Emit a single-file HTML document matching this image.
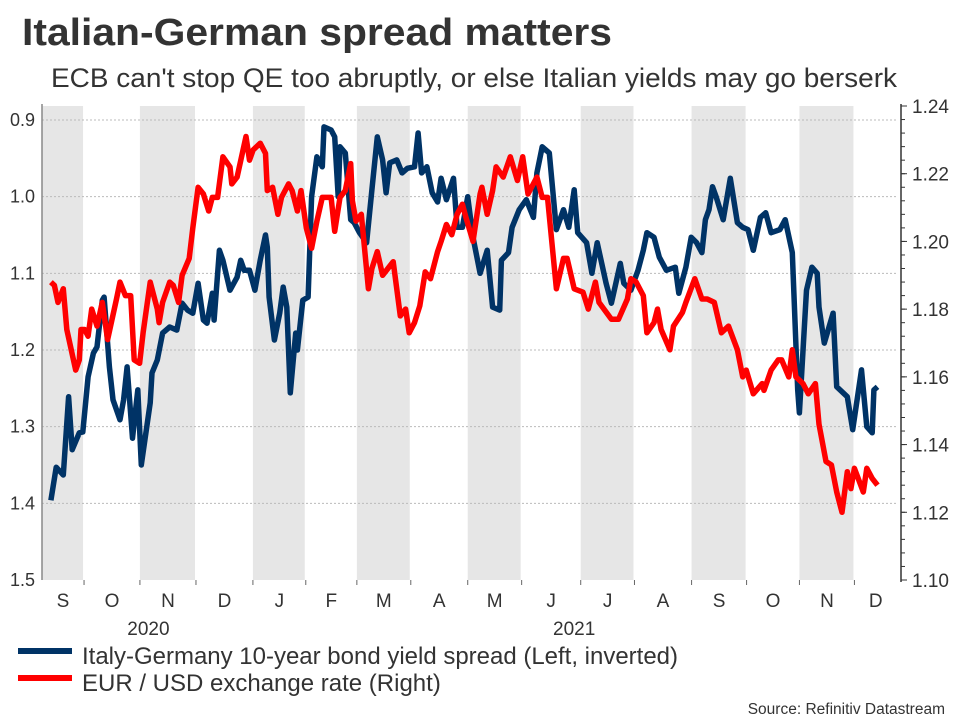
<!DOCTYPE html>
<html><head><meta charset="utf-8"><style>
body{margin:0;background:#fff;}
svg{display:block;font-family:"Liberation Sans",Arial,sans-serif;}
</style></head><body>
<svg id="chart" width="960" height="720" viewBox="0 0 960 720">
<text x="22" y="45" font-size="38" font-weight="bold" fill="#333" textLength="590" lengthAdjust="spacingAndGlyphs">Italian-German spread matters</text>
<text x="51" y="87" font-size="27" fill="#333" textLength="846" lengthAdjust="spacingAndGlyphs">ECB can't stop QE too abruptly, or else Italian yields may go berserk</text>
<g id="bands"></g>
<g id="grid"></g>
<g id="laxis"></g>
<g id="raxis"></g>
<g id="xaxis"></g>
<g id="series"></g>
<g>
<rect x="18" y="648" width="54" height="6" fill="#003366"/>
<text x="82" y="664" font-size="24" fill="#333" textLength="596" lengthAdjust="spacingAndGlyphs">Italy-Germany 10-year bond yield spread (Left, inverted)</text>
<rect x="18" y="675" width="54" height="6" fill="#ff0000"/>
<text x="82" y="691" font-size="24" fill="#333">EUR / USD exchange rate (Right)</text>
</g>
<text x="945" y="714" font-size="15.5" fill="#333" text-anchor="end">Source: Refinitiv Datastream</text>
</svg>
<script>
const monthStarts=[0,23.7,55.2,86.8,118.9,148.7,177.5,207.9,240,270.4,303.7,334,366.2,397.2,427,458,482];
const monthLabels=["S","O","N","D","J","F","M","A","M","J","J","A","S","O","N","D"];
const yearLabels=["2020","2021"];
const yearLabelDays=[60,300];
const leftTicks=[0.9,1.0,1.1,1.2,1.3,1.4,1.5];
const leftTickLabels=["0.9","1.0","1.1","1.2","1.3","1.4","1.5"];
const rightTicks=[1.10,1.12,1.14,1.16,1.18,1.20,1.22,1.24];
const rightTickLabels=["1.10","1.12","1.14","1.16","1.18","1.20","1.22","1.24"];
const spreadDays=[5,8,12,15,17,21,23,26,29,31,34,35,38,40,44,46,48,51,54,56,61,62,65,68,72,76,79,82,85,88,91,93,96,97,100,102,106,110,112,114,117,120,123,126,127,128,131,134,136,138,140,143,144,147,150,152,155,158,159,163,165,167,168,171,174,176,179,183,186,189,192,194,196,200,203,206,210,212,214,217,220,223,225,228,232,234,237,240,243,247,251,254,258,259,263,265,269,273,277,279,282,286,290,294,297,300,302,307,310,313,318,321,326,328,332,336,339,341,345,348,352,357,359,363,366,369,372,374,376,378,380,384,388,392,395,398,401,405,408,411,416,419,423,426,427,431,434,437,438,441,446,448,454,457,462,465,468,469,471];
const spreadValues=[1.396,1.353,1.363,1.261,1.330,1.308,1.307,1.235,1.204,1.196,1.135,1.131,1.222,1.265,1.291,1.265,1.222,1.315,1.252,1.350,1.269,1.230,1.213,1.178,1.170,1.174,1.139,1.148,1.152,1.113,1.161,1.165,1.126,1.161,1.070,1.083,1.122,1.105,1.083,1.096,1.096,1.122,1.083,1.050,1.066,1.131,1.187,1.152,1.118,1.144,1.256,1.178,1.200,1.135,1.131,1.000,0.948,0.961,0.909,0.913,0.922,1.000,0.935,0.943,1.030,1.034,1.047,1.060,0.991,0.922,0.952,0.995,0.956,0.952,0.969,0.963,0.961,0.917,0.969,0.961,0.995,1.007,0.976,1.004,0.976,1.040,1.040,1.000,1.053,1.100,1.070,1.144,1.148,1.083,1.073,1.040,1.017,1.004,1.027,0.969,0.935,0.943,1.043,1.017,1.040,0.991,1.047,1.060,1.100,1.060,1.113,1.139,1.087,1.113,1.122,1.096,1.070,1.047,1.053,1.079,1.096,1.092,1.126,1.092,1.053,1.060,1.073,1.030,1.017,0.987,1.000,1.030,0.976,1.034,1.040,1.043,1.070,1.027,1.021,1.047,1.043,1.030,1.073,1.252,1.282,1.122,1.092,1.100,1.144,1.191,1.152,1.248,1.261,1.304,1.226,1.300,1.308,1.252,1.248];
const fxDays=[5,7,9,12,14,19,21,22,24,26,28,31,34,37,42,44,47,50,52,55,57,61,65,66,68,72,74,77,79,83,85,88,91,94,96,99,102,106,107,110,115,117,119,123,126,127,130,133,135,139,141,144,146,149,152,155,158,163,165,168,171,174,175,177,180,184,186,189,192,195,198,202,205,207,210,213,216,219,223,225,228,231,234,237,239,243,247,248,251,254,256,260,264,268,271,274,279,282,285,290,294,296,300,305,308,312,314,321,325,330,332,335,339,341,345,347,349,354,356,361,363,368,372,375,379,383,387,392,395,397,401,406,407,411,415,417,421,423,425,429,432,436,438,442,445,448,451,454,456,458,463,465,468,471];
const fxValues=[1.188,1.187,1.182,1.186,1.174,1.162,1.165,1.174,1.174,1.172,1.180,1.175,1.182,1.171,1.183,1.188,1.184,1.184,1.165,1.164,1.173,1.188,1.180,1.176,1.182,1.188,1.187,1.182,1.190,1.195,1.204,1.216,1.214,1.209,1.213,1.213,1.225,1.222,1.217,1.219,1.231,1.224,1.227,1.229,1.226,1.215,1.216,1.208,1.213,1.217,1.215,1.209,1.215,1.204,1.198,1.206,1.213,1.213,1.203,1.213,1.215,1.223,1.212,1.206,1.208,1.186,1.192,1.197,1.190,1.192,1.194,1.178,1.180,1.173,1.176,1.181,1.191,1.189,1.197,1.200,1.205,1.202,1.208,1.211,1.207,1.200,1.214,1.216,1.208,1.215,1.222,1.219,1.225,1.218,1.225,1.214,1.219,1.213,1.213,1.186,1.195,1.195,1.186,1.185,1.180,1.188,1.182,1.177,1.177,1.183,1.189,1.188,1.184,1.173,1.176,1.180,1.174,1.168,1.175,1.179,1.182,1.189,1.183,1.183,1.182,1.173,1.175,1.168,1.160,1.162,1.155,1.158,1.156,1.162,1.165,1.165,1.160,1.168,1.160,1.158,1.155,1.158,1.146,1.135,1.134,1.126,1.120,1.132,1.127,1.133,1.126,1.133,1.130,1.128];

const NS="http://www.w3.org/2000/svg";
const X0=42,X1=897,YT=106,YB=580;
const xS=d=>X0+(d-monthStarts[0])/(monthStarts[monthStarts.length-1]-monthStarts[0])*(X1-X0);
const yL=v=>120+(v-0.9)/(1.5-0.9)*(580-120);
const yR=v=>YB-(v-1.10)/(1.24-1.10)*(YB-YT);
function mk(tag,attrs,parent){const e=document.createElementNS(NS,tag);for(const k in attrs)e.setAttribute(k,attrs[k]);parent.appendChild(e);return e;}
const bands=document.getElementById('bands'),grid=document.getElementById('grid'),lax=document.getElementById('laxis'),rax=document.getElementById('raxis'),xax=document.getElementById('xaxis'),ser=document.getElementById('series');
for(let i=0;i<monthLabels.length;i++){
  const a=xS(monthStarts[i]),b=xS(monthStarts[i+1]);
  if(i%2===0){const r=mk('rect',{x:a,y:YT,width:b-a-1,height:YB-YT,fill:'#e6e6e6'},bands);
    
    }
  const t=mk('text',{x:(a+b)/2,y:607,'font-size':19,fill:'#333','text-anchor':'middle'},xax);
  t.textContent=monthLabels[i];
  
  
  if(i>0){const tk=mk('line',{x1:a,x2:a,y1:580,y2:585,stroke:'#666'},xax);
    
    }
}
yearLabels.forEach((s,i)=>{const t=mk('text',{x:xS(yearLabelDays[i]),y:635,'font-size':19,fill:'#333','text-anchor':'middle'},xax);
  t.textContent=s;
  
  });
leftTicks.forEach((v,i)=>{const y=yL(v);
  if(v<1.5){const g=mk('line',{x1:X0,x2:X1,y1:y,y2:y,stroke:'#bbb','stroke-dasharray':'2,2'},grid);
    
    }
  const t=mk('text',{x:35,y:y+6,'font-size':18,fill:'#333','text-anchor':'end'},lax);
  t.textContent=leftTickLabels[i];
  
  });
const la=mk('line',{x1:X0,x2:X0,y1:YT-2,y2:YB,stroke:'#888','stroke-width':1.5},lax);


const ra=mk('line',{x1:901,x2:901,y1:YT-2,y2:YB+2,stroke:'#333','stroke-width':1.5},rax);


for(let v=1.10;v<=1.2401;v+=0.004){const tk=mk('line',{x1:901,x2:905,y1:yR(v),y2:yR(v),stroke:'#333'},rax);
  
  }
rightTicks.forEach((v,i)=>{const y=yR(v);
  const tk=mk('line',{x1:901,x2:907,y1:y,y2:y,stroke:'#333'},rax);
  
  
  const t=mk('text',{x:912,y:y+7,'font-size':19,fill:'#333'},rax);
  t.textContent=rightTickLabels[i];
  
  });
const dB=spreadDays.map((d,i)=>(i?'L':'M')+xS(d).toFixed(1)+','+yL(spreadValues[i]).toFixed(1)).join(' ');
const pB=mk('path',{d:dB,fill:'none',stroke:'#003366','stroke-width':5.5,'stroke-linejoin':'round'},ser);


const dR=fxDays.map((d,i)=>(i?'L':'M')+xS(d).toFixed(1)+','+yR(fxValues[i]).toFixed(1)).join(' ');
const pR=mk('path',{d:dR,fill:'none',stroke:'#ff0000','stroke-width':5.5,'stroke-linejoin':'round'},ser);


</script>
</body></html>
